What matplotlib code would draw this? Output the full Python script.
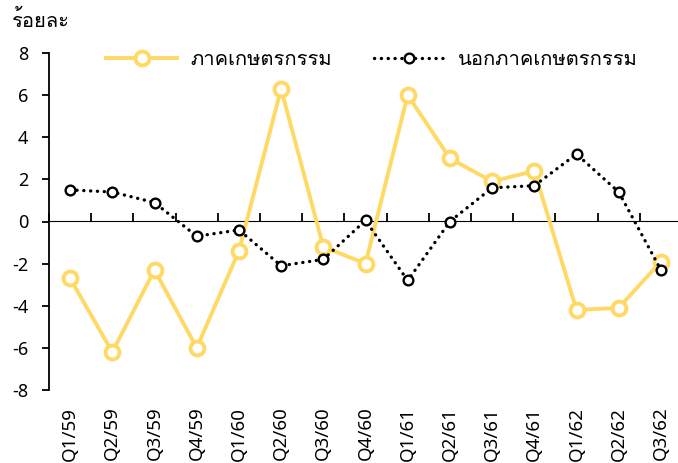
import matplotlib
matplotlib.use("Agg")
import matplotlib.pyplot as plt
from matplotlib import font_manager
from matplotlib.ft2font import FT2Font

categories = ["Q1/59", "Q2/59", "Q3/59", "Q4/59", "Q1/60", "Q2/60", "Q3/60", "Q4/60",
              "Q1/61", "Q2/61", "Q3/61", "Q4/61", "Q1/62", "Q2/62", "Q3/62"]
agri = [-2.7, -6.2, -2.3, -6.0, -1.4, 6.3, -1.2, -2.0, 6.0, 3.0, 1.9, 2.4, -4.2, -4.1, -1.9]
nonagri = [1.5, 1.4, 0.9, -0.7, -0.4, -2.1, -1.8, 0.05, -2.8, 0.0, 1.6, 1.7, 3.2, 1.4, -2.3]
yticks = [8, 6, 4, 2, 0, -2, -4, -6, -8]
label_agri = "ภาคเกษตรกรรม"
label_non = "นอกภาคเกษตรกรรม"
ylabel = "ร้อยละ"

# find fonts with Thai glyphs
thai_fonts = []
for f in font_manager.fontManager.ttflist:
    try:
        ft = FT2Font(f.fname)
        if ft.get_char_index(0x0E20) and f.name not in thai_fonts:
            thai_fonts.append(f.name)
    except Exception:
        pass
families = ["Noto Sans"] + thai_fonts[:1] + ["DejaVu Sans"]
plt.rcParams['font.family'] = families
plt.rcParams['axes.unicode_minus'] = False

fig = plt.figure(figsize=(6.78, 4.63), dpi=100)
ax = fig.add_axes([49/678, 1-390/463, (682-49)/678, (390-53)/463])
x = list(range(len(categories)))
yellow = "#FFD966"
ax.plot(x, agri, color=yellow, lw=2.8, marker='o', ms=10, mfc='white', mec=yellow, mew=2.8,
        label=label_agri, zorder=3)
ax.plot(x, nonagri, color='black', lw=2.4, ls=(0, (0.05, 2.0)), dash_capstyle='round',
        marker='o', ms=7, mfc='white', mec='black', mew=1.7, label=label_non, zorder=4)
ax.set_xlim(-0.5, len(categories) - 0.5)
ax.set_ylim(-8, 8)
ax.set_yticks(yticks)
ax.set_yticklabels([str(v) for v in yticks], fontsize=13)
ax.set_xticks(x)
ax.set_xticklabels(categories, rotation=90, fontsize=13.5)
ax.tick_params(axis='x', length=0, pad=12)
ax.tick_params(axis='y', length=5, width=1.3, direction='out', pad=10)
for s in ['top', 'right', 'bottom']:
    ax.spines[s].set_visible(False)
ax.spines['left'].set_linewidth(1.3)

sec = ax.secondary_xaxis(0.5)
sec.set_xticks([i - 0.5 for i in range(len(categories) + 1)])
sec.set_xticklabels([])
sec.tick_params(axis='x', length=6, width=1.3, direction='out')
sec.spines['bottom'].set_linewidth(1.5)

fig.text(12/678, 1-21/463, ylabel, fontsize=14.5, va='center', ha='left')
leg = ax.legend(loc='center', bbox_to_anchor=(0.51, 1 - (60-53)/(390-53)), ncol=2,
                frameon=False, fontsize=14.5, handlelength=3.5, columnspacing=2.1,
                handletextpad=0.65)
fig.savefig("out.png", dpi=100)
